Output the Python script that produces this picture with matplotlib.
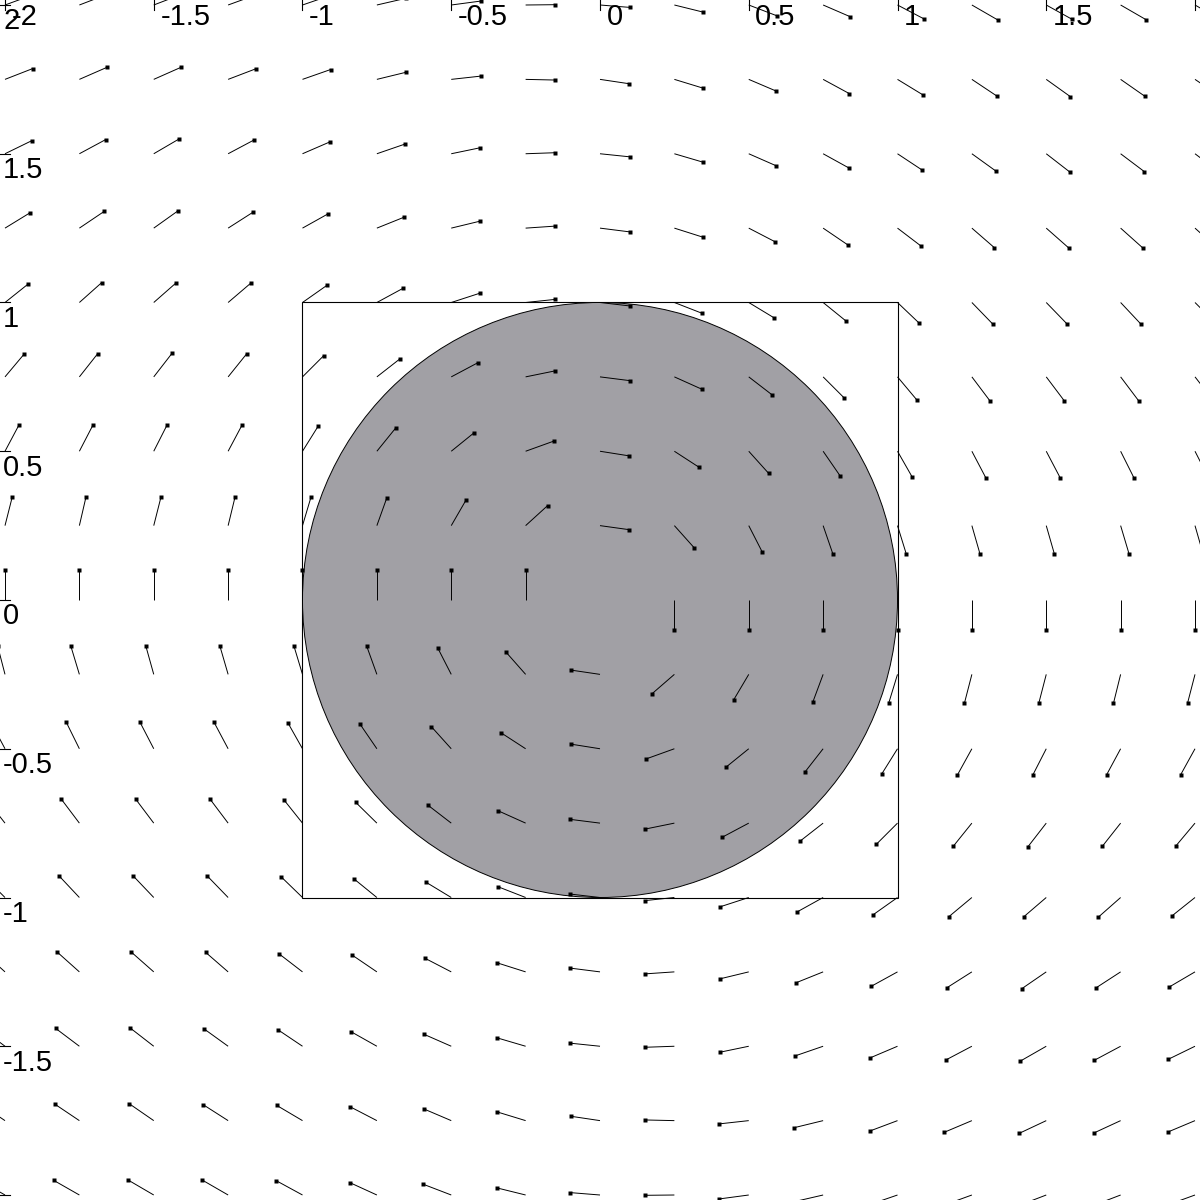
import numpy as np
import matplotlib.pyplot as plt
from matplotlib.patches import Circle, Rectangle
from matplotlib.collections import LineCollection

# grid of arrow tails
x_grid = [-2, -1.75, -1.5, -1.25, -1, -0.75, -0.5, -0.25, 0,
          0.25, 0.5, 0.75, 1, 1.25, 1.5, 1.75, 2]
y_grid = [2, 1.75, 1.5, 1.25, 1, 0.75, 0.5, 0.25, 0,
          -0.25, -0.5, -0.75, -1, -1.25, -1.5, -1.75, -2]

# arrow direction in degrees, one row per y, top row first
nan = float('nan')
angle_rows = [
    [20, 21, 21, 20, 19, 13, 7.6, 0.6, -4.6, -13.9, -21, -23.4, -27.7, -30, -29, -30, -30],
    [21.3, 23.6, 23.9, 20.9, 19.3, 13.7, 6.3, -1.3, -8.5, -17, -23.1, -28.5, -31.4, -33.7, -35.6, -34.9, -34],
    [26, 28.3, 30.3, 28, 23.4, 19, 11.7, 2, -5.9, -16.4, -23.7, -28.9, -33.5, -35.8, -37.8, -37, -37],
    [31.5, 34, 35.5, 32.6, 29.2, 21.9, 13.6, 3.9, -7.2, -17.6, -27.4, -34.2, -37.3, -41, -41.4, -41.8, -42],
    [38.6, 41.7, 41.3, 40.5, 35.1, 28.5, 18, 6, -6.6, -21.3, -31.2, -39, -43.6, -45.9, -45.9, -46.8, -45],
    [50, 51.7, 52.2, 51.2, 45, 38, 28, 11.5, -7.2, -24.2, -37.6, -45, -50, -53, -53, -53, -52],
    [62, 62.6, 63.1, 62, 58, 51, 39, 19.8, -9, -33, -48, -55.4, -60.3, -62.3, -62.3, -63.4, -63],
    [75.8, 77, 75.8, 76.4, 73.4, 70.3, 60, 42.3, -7.9, -48.2, -62.9, -71, -72.8, -74, -74, -73.4, -74],
    [90, 90, 90, 90, 90, 90, 90, 90, nan, -90, -90, -90, -90, -90, -90, -90, -90],
    [104.5, 106.8, 105.6, 106.2, 106.8, 109.8, 117.1, 131.4, 171.6, -139.1, -120.6, -110.4, -107, -104.5, -104.5, -103.9, -104.5],
    [118, 116.3, 117.4, 118, 119.4, 124.4, 132, 147, 171, -160.2, -141, -128, -122, -118.9, -117.1, -118.3, -118.9],
    [128, 127, 127, 127, 128.6, 135.5, 142.4, 155.8, 172.8, -168.5, -152, -142, -135, -128.8, -127.8, -128.3, -130],
    [135, 133.2, 133.6, 134.1, 135.9, 140.9, 148.8, 158.7, 173.4, -174, -162, -151, -144.7, -140.2, -139.4, -138.6, -141.4],
    [138, 138.2, 138.6, 139, 142.4, 145.8, 152.6, 162.4, 172.8, -176.1, -166.4, -158.1, -151.2, -147.6, -145.5, -147, -149.6],
    [143, 143, 142.2, 144.2, 146.1, 150.6, 156.3, 163.6, 174.1, -178, -168.3, -161, -157, -152.2, -150.2, -151.9, -154],
    [146, 146.1, 145.4, 147.4, 149.4, 152.6, 156.9, 163, 171.5, 178.7, -173.7, -166.3, -159.4, -157.1, -154.8, -155.2, -157.2],
    [150, 150.3, 149.7, 150, 151.4, 155.4, 159, 166.1, 175.4, -179.4, -172.4, -167, -161, -160, -159, -159, -160],
]
arrow_len = 0.1

# ticks at +-2 sit on the canvas edge; their labels fall outside the picture
x_ticks = [-2, -1.5, -1, -0.5, 0, 0.5, 1, 1.5, 2]
x_tick_labels = ['-2', '-1.5', '-1', '-0.5', '0', '0.5', '1', '1.5', '']
y_ticks = [2, 1.5, 1, 0.5, 0, -0.5, -1, -1.5, -2]
y_tick_labels = ['2', '1.5', '1', '0.5', '0', '-0.5', '-1', '-1.5', '']

fig = plt.figure(figsize=(12, 12), dpi=100)
ax = fig.add_axes([0, 0, 1, 1])
lim = 2.0168
ax.set_xlim(-lim, lim)
ax.set_ylim(-lim, lim)
ax.set_axis_off()

# square and disk
ax.add_patch(Rectangle((-1, -1), 2, 2, fill=False, ec='black', lw=0.8, zorder=1))
ax.add_patch(Circle((0, 0), 1, fc='#a1a0a5', ec='black', lw=0.7, zorder=2))

# vector field: line from tail, small square at the head
X, Y = np.meshgrid(x_grid, y_grid)
A = np.radians(np.array(angle_rows, dtype=float))
ok = ~np.isnan(A)
X, Y, A = X[ok], Y[ok], A[ok]
HX = X + arrow_len * np.cos(A)
HY = Y + arrow_len * np.sin(A)
segs = [[(x0, y0), (x1, y1)] for x0, y0, x1, y1 in zip(X, Y, HX, HY)]
ax.add_collection(LineCollection(segs, colors='black', linewidths=0.7, zorder=3))
ax.plot(HX, HY, 's', ms=2.3, color='black', mec='none', zorder=4)

# ticks crossing the lines x=-2 and y=2, labels below/right of them
tick_half = 0.0168
for xt, lab in zip(x_ticks, x_tick_labels):
    ax.plot([xt, xt], [2 - tick_half, 2 + tick_half], color='black', lw=0.8, zorder=5)
    if lab:
        ax.text(xt + 0.022, 2 - 0.0675, lab, ha='left', va='baseline',
                fontsize=21, family='Liberation Sans', zorder=6)
for yt, lab in zip(y_ticks, y_tick_labels):
    ax.plot([-2 - tick_half, -2 + tick_half], [yt, yt], color='black', lw=0.8, zorder=5)
    if lab:
        ax.text(-2 - 0.006, yt - 0.082, lab, ha='left', va='baseline',
                fontsize=21, family='Liberation Sans', zorder=6)

fig.savefig('out.png', dpi=100)
